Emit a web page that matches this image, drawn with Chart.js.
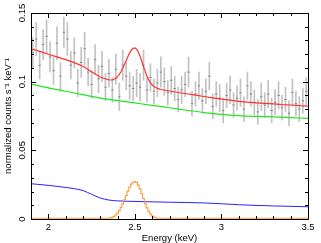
<!DOCTYPE html>
<html>
<head>
<meta charset="utf-8">
<script src="https://cdn.jsdelivr.net/npm/chart.js@4/dist/chart.umd.min.js"></script>
<style>
  html, body { margin: 0; padding: 0; background: #fff; }
  canvas { display: block; }
</style>
</head>
<body>
<canvas id="Chart1" width="321" height="243"></canvas>
<script>
// axis ranges and ticks
const xRange = [1.9, 3.5];
const yRange = [0, 0.15];
const xMajor = [2, 2.5, 3, 3.5];
const xLabels = ['2', '2.5', '3', '3.5'];
const xMinor = [2.1, 2.2, 2.3, 2.4, 2.6, 2.7, 2.8, 2.9, 3.1, 3.2, 3.3, 3.4];
const yMajor = [0, 0.05, 0.1, 0.15];
const yLabels = ['0', '0.05', '0.1', '0.15'];
const yMinor = [0.01, 0.02, 0.03, 0.04, 0.06, 0.07, 0.08, 0.09, 0.11, 0.12, 0.13, 0.14];

// observed spectrum (bin centre, rate, 1 sigma)
const dataE = [1.91, 1.93, 1.95, 1.97, 1.99, 2.01, 2.03, 2.05, 2.07, 2.09,
    2.11, 2.13, 2.15, 2.17, 2.19, 2.21, 2.23, 2.25, 2.27, 2.29,
    2.31, 2.33, 2.35, 2.37, 2.39, 2.41, 2.43, 2.45, 2.47, 2.49,
    2.51, 2.53, 2.55, 2.57, 2.59, 2.61, 2.63, 2.65, 2.67, 2.69,
    2.71, 2.73, 2.75, 2.77, 2.79, 2.81, 2.83, 2.85, 2.87, 2.89,
    2.91, 2.93, 2.95, 2.97, 2.99, 3.01, 3.03, 3.05, 3.07, 3.09,
    3.11, 3.13, 3.15, 3.17, 3.19, 3.21, 3.23, 3.25, 3.27, 3.29,
    3.31, 3.33, 3.35, 3.37, 3.39, 3.41, 3.43, 3.45, 3.47, 3.49];
const dataY = [0.121, 0.131, 0.112, 0.127, 0.133, 0.118, 0.108, 0.128, 0.104, 0.136,
    0.131, 0.112, 0.121, 0.099, 0.114, 0.124, 0.107, 0.098, 0.116, 0.102,
    0.111, 0.096, 0.106, 0.094, 0.109, 0.089, 0.112, 0.104, 0.097, 0.095,
    0.099, 0.096, 0.112, 0.094, 0.103, 0.093, 0.099, 0.107, 0.100, 0.092,
    0.101, 0.095, 0.087, 0.094, 0.098, 0.107, 0.084, 0.091, 0.097, 0.086,
    0.093, 0.104, 0.082, 0.091, 0.088, 0.079, 0.090, 0.094, 0.083, 0.088,
    0.092, 0.080, 0.097, 0.091, 0.085, 0.078, 0.089, 0.083, 0.091, 0.079,
    0.085, 0.090, 0.081, 0.087, 0.077, 0.092, 0.084, 0.080, 0.086, 0.093];
const dataErr = [0.011, 0.012, 0.010, 0.011, 0.012, 0.011, 0.010, 0.012, 0.010, 0.011,
    0.012, 0.010, 0.011, 0.010, 0.011, 0.012, 0.010, 0.010, 0.011, 0.010,
    0.011, 0.010, 0.010, 0.009, 0.011, 0.010, 0.011, 0.010, 0.010, 0.009,
    0.010, 0.010, 0.011, 0.009, 0.010, 0.009, 0.010, 0.011, 0.010, 0.009,
    0.010, 0.009, 0.009, 0.010, 0.009, 0.011, 0.009, 0.009, 0.010, 0.009,
    0.009, 0.010, 0.009, 0.009, 0.010, 0.009, 0.009, 0.010, 0.009, 0.009,
    0.010, 0.009, 0.010, 0.009, 0.009, 0.009, 0.010, 0.009, 0.010, 0.009,
    0.009, 0.010, 0.009, 0.009, 0.009, 0.010, 0.009, 0.009, 0.009, 0.010];

// model components
const greenE = [1.9, 2.0, 2.1, 2.2, 2.3, 2.4, 2.5, 2.6, 2.7, 2.8, 2.9, 3.0, 3.1, 3.2, 3.3, 3.4, 3.5];
const green = [0.0983, 0.0955, 0.0930, 0.0905, 0.0880, 0.0862, 0.0845, 0.0828, 0.0810, 0.0792,
    0.0775, 0.0762, 0.0753, 0.0747, 0.0743, 0.0738, 0.0733];

const blueE = [1.9, 2.0, 2.1, 2.15, 2.2, 2.25, 2.3, 2.35, 2.4, 2.5, 2.6, 2.7, 2.8, 2.9, 3.0, 3.1, 3.2, 3.3, 3.4, 3.5];
const blue = [0.0257, 0.0245, 0.0230, 0.0221, 0.0207, 0.0180, 0.0153, 0.0138, 0.0132, 0.0128,
    0.0125, 0.0122, 0.0120, 0.0117, 0.0111, 0.0104, 0.0099, 0.0095, 0.0092, 0.0089];

const orangeE = [1.9, 2.34, 2.35, 2.36, 2.37, 2.38, 2.39, 2.40, 2.41, 2.42, 2.43, 2.44, 2.45,
    2.46, 2.47, 2.48, 2.49, 2.50, 2.51, 2.52, 2.53, 2.54, 2.55, 2.56, 2.57, 2.58,
    2.59, 2.60, 2.61, 2.62, 2.63, 3.5];
const orange = [0.0005, 0.0005, 0.0005, 0.0008, 0.0012, 0.0019, 0.0029, 0.0043, 0.0061, 0.0084, 0.0110, 0.0140, 0.0172,
    0.0203, 0.0231, 0.0254, 0.0268, 0.0273, 0.0266, 0.0247, 0.0219, 0.0184, 0.0147, 0.0112, 0.0081, 0.0056,
    0.0037, 0.0023, 0.0014, 0.0008, 0.0005, 0.0005];

const redE = [1.9, 1.95, 2.0, 2.05, 2.1, 2.15, 2.2, 2.25, 2.3, 2.31, 2.32, 2.33, 2.34, 2.35,
    2.36, 2.37, 2.38, 2.39, 2.40, 2.41, 2.42, 2.43, 2.44, 2.45, 2.46, 2.47, 2.48, 2.49,
    2.50, 2.51, 2.52, 2.53, 2.54, 2.55, 2.56, 2.57, 2.58, 2.59, 2.60, 2.61, 2.62, 2.63,
    2.64, 2.65, 2.7, 2.75, 2.8, 2.85, 2.9, 2.95, 3.0, 3.05, 3.1, 3.15, 3.2, 3.25, 3.3,
    3.35, 3.4, 3.45, 3.5];
const red = [0.1240, 0.1221, 0.1200, 0.1181, 0.1160, 0.1139, 0.1112, 0.1073, 0.1034, 0.1029, 0.1025, 0.1021, 0.1017, 0.1014,
    0.1012, 0.1013, 0.1018, 0.1025, 0.1037, 0.1053, 0.1072, 0.1097, 0.1125, 0.1154, 0.1184, 0.1210, 0.1231, 0.1243,
    0.1246, 0.1237, 0.1216, 0.1186, 0.1149, 0.1110, 0.1073, 0.1040, 0.1013, 0.0992, 0.0976, 0.0965, 0.0957, 0.0951,
    0.0947, 0.0943, 0.0932, 0.0921, 0.0912, 0.0902, 0.0892, 0.0882, 0.0873, 0.0865, 0.0857, 0.0851, 0.0846, 0.0842, 0.0838,
    0.0833, 0.0830, 0.0825, 0.0822];

const pts = (xs, ys) => xs.map((x, i) => ({x: x, y: ys[i]}));
const FONT = '9.5px "Liberation Sans", Arial, sans-serif';

// frame, inward ticks and labels, drawn from the scales
const frame = {
    id: 'frame',
    afterDatasetsDraw(chart) {
        const {ctx, chartArea: a, scales: {x, y}} = chart;
        ctx.save();
        ctx.strokeStyle = '#000';
        ctx.lineWidth = 1;
        ctx.beginPath();
        ctx.rect(a.left + 0.5, a.top + 0.5, a.right - a.left, a.bottom - a.top);
        const xt = (v, len) => {
            const px = Math.round(x.getPixelForValue(v)) + 0.5;
            ctx.moveTo(px, a.bottom); ctx.lineTo(px, a.bottom - len);
            ctx.moveTo(px, a.top); ctx.lineTo(px, a.top + len);
        };
        const yt = (v, len) => {
            const py = Math.round(y.getPixelForValue(v)) + 0.5;
            ctx.moveTo(a.left, py); ctx.lineTo(a.left + len, py);
            ctx.moveTo(a.right, py); ctx.lineTo(a.right - len, py);
        };
        xMinor.forEach(v => xt(v, 3));
        xMajor.forEach(v => xt(v, 5));
        yMinor.forEach(v => yt(v, 3));
        yMajor.forEach(v => yt(v, 5));
        ctx.stroke();

        ctx.fillStyle = '#000';
        ctx.font = FONT;
        ctx.textAlign = 'center';
        ctx.textBaseline = 'middle';
        xMajor.forEach((v, i) => ctx.fillText(xLabels[i], x.getPixelForValue(v), a.bottom + 8));
        ctx.fillText('Energy (keV)', (a.left + a.right) / 2, a.bottom + 19);
        yMajor.forEach((v, i) => {
            ctx.save();
            ctx.translate(a.left - 9, y.getPixelForValue(v));
            ctx.rotate(-Math.PI / 2);
            ctx.fillText(yLabels[i], 0, 0);
            ctx.restore();
        });
        ctx.translate(a.left - 23, (a.top + a.bottom) / 2);
        ctx.rotate(-Math.PI / 2);
        ctx.fillText('normalized counts s\u207B\u00B9 keV\u207B\u00B9', 0, 0);
        ctx.restore();
    }
};

const ctx1 = document.getElementById('Chart1').getContext('2d');
const chart1 = new Chart(ctx1, {
    type: 'line',
    data: {
        datasets: [
            {
                type: 'bar',
                data: dataE.map((e, i) => ({x: e, y: [dataY[i] - dataErr[i], dataY[i] + dataErr[i]]})),
                backgroundColor: '#c2c2c2',
                borderWidth: 0,
                barThickness: 1,
                grouped: false,
                order: 6,
            },
            {
                data: pts(dataE, dataY),
                showLine: false,
                pointStyle: 'line',
                pointRadius: 1.2,
                pointBorderColor: '#888888',
                pointBorderWidth: 1,
                order: 5,
            },
            {
                data: pts(greenE, green),
                borderColor: '#22e622',
                borderWidth: 1.2,
                pointRadius: 0,
                cubicInterpolationMode: 'monotone',
                order: 4,
            },
            {
                data: pts(blueE, blue),
                borderColor: '#2424ff',
                borderWidth: 1,
                pointRadius: 0,
                cubicInterpolationMode: 'monotone',
                order: 3,
            },
            {
                data: pts(orangeE, orange),
                borderColor: '#ff9a3c',
                borderWidth: 1.1,
                pointRadius: 0,
                stepped: 'middle',
                order: 2,
            },
            {
                data: pts(redE, red),
                borderColor: '#ff3030',
                borderWidth: 1.2,
                pointRadius: 0,
                tension: 0,
                order: 1,
            },
        ],
    },
    options: {
        responsive: false,
        animation: false,
        devicePixelRatio: 1,
        layout: {
            padding: {left: 31, right: 13, top: 13, bottom: 24},
        },
        plugins: {
            legend: {display: false},
            tooltip: {enabled: false},
        },
        scales: {
            x: {type: 'linear', min: xRange[0], max: xRange[1], display: false, offset: false},
            y: {type: 'linear', min: yRange[0], max: yRange[1], display: false},
        },
    },
    plugins: [frame],
});
</script>
</body>
</html>
